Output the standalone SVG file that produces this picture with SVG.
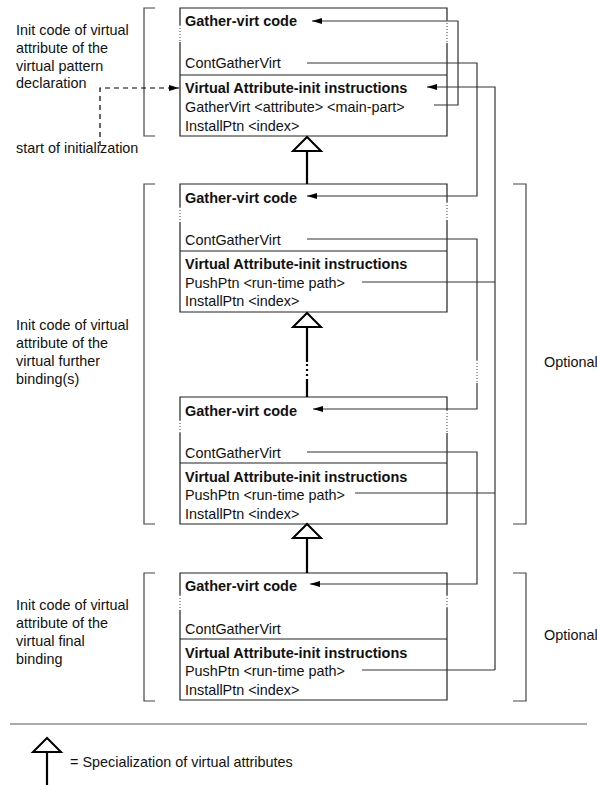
<svg xmlns="http://www.w3.org/2000/svg" width="597" height="785" viewBox="0 0 597 785">
<defs>
<style>
text{font-family:"Liberation Sans",Arial,sans-serif;font-size:14.4px;fill:#111}
.b{font-weight:bold;font-size:14.5px}
.edge{fill:none;stroke:#222;stroke-width:1.2}
.dot{fill:none;stroke:#444;stroke-width:1;stroke-dasharray:1,2}
.con{fill:none;stroke:#333;stroke-width:1.2}
.brk{fill:none;stroke:#444;stroke-width:1.2}
.spec{fill:none;stroke:#000;stroke-width:2.2}
.tri{fill:#fff;stroke:#000;stroke-width:2}
</style>
<marker id="ah" markerWidth="10" markerHeight="6" refX="10" refY="3" orient="auto" markerUnits="userSpaceOnUse">
<path d="M0,0 L10,3 L0,6 Z" fill="#000"/>
</marker>
</defs>
<rect width="597" height="785" fill="#fff"/>

<g id="bracket-left-1"><path class="brk" d="M155,8 H144 V136 H155"/>
<text x="16" y="35">Init code of virtual</text><text x="16" y="53">attribute of the</text><text x="16" y="71">virtual pattern</text><text x="16" y="88">declaration</text></g>

<g id="bracket-left-2"><path class="brk" d="M155,184 H144 V524 H155"/>
<text x="16" y="330">Init code of virtual</text><text x="16" y="348">attribute of the</text><text x="16" y="366">virtual further</text><text x="16" y="384">binding(s)</text></g>

<g id="bracket-left-3"><path class="brk" d="M155,573 H144 V701 H155"/>
<text x="16" y="610">Init code of virtual</text><text x="16" y="628">attribute of the</text><text x="16" y="646">virtual final</text><text x="16" y="664">binding</text></g>

<g id="bracket-right-1"><path class="brk" d="M513,184 H526 V524 H513"/><text x="544" y="367">Optional</text></g>
<g id="bracket-right-2"><path class="brk" d="M513,573 H526 V701 H513"/><text x="544" y="640">Optional</text></g>

<g id="box1">
<path class="edge" d="M180,25 V8 H447 V20 M447,43 V136 H180 V42 M180,75 H447"/>
<path class="dot" d="M180,25 V42 M447,20 V43"/>
<text class="b" x="185" y="26">Gather-virt code</text>
<text x="185" y="68">ContGatherVirt</text>
<text class="b" x="185" y="93">Virtual Attribute-init instructions</text>
<text x="185" y="112">GatherVirt &lt;attribute&gt; &lt;main-part&gt;</text>
<text x="185" y="131">InstallPtn &lt;index&gt;</text>
</g>

<g id="box2">
<path class="edge" d="M180,207 V184 H447 V202 M447,220 V312 H180 V222 M180,251 H447"/>
<path class="dot" d="M180,207 V222 M447,202 V220"/>
<text class="b" x="185" y="203">Gather-virt code</text>
<text x="185" y="245">ContGatherVirt</text>
<text class="b" x="185" y="269">Virtual Attribute-init instructions</text>
<text x="185" y="288">PushPtn &lt;run-time path&gt;</text>
<text x="185" y="306">InstallPtn &lt;index&gt;</text>
</g>

<g id="box3">
<path class="edge" d="M180,420 V397 H447 V410 M447,433 V524 H180 V433 M180,463 H447"/>
<path class="dot" d="M180,420 V433 M447,410 V433"/>
<text class="b" x="185" y="416">Gather-virt code</text>
<text x="185" y="458">ContGatherVirt</text>
<text class="b" x="185" y="482">Virtual Attribute-init instructions</text>
<text x="185" y="500">PushPtn &lt;run-time path&gt;</text>
<text x="185" y="519">InstallPtn &lt;index&gt;</text>
</g>

<g id="box4">
<path class="edge" d="M180,595 V573 H447 V595 M447,608 V700 H180 V610 M180,639 H447"/>
<path class="dot" d="M180,595 V610 M447,595 V608"/>
<text class="b" x="185" y="591">Gather-virt code</text>
<text x="185" y="634">ContGatherVirt</text>
<text class="b" x="185" y="658">Virtual Attribute-init instructions</text>
<text x="185" y="676">PushPtn &lt;run-time path&gt;</text>
<text x="185" y="695">InstallPtn &lt;index&gt;</text>
</g>

<g id="start-label"><text x="16" y="153">start of initialization</text></g>

<g id="connectors">
<path d="M100,146 V88 H179" fill="none" stroke="#000" stroke-width="1.2" stroke-dasharray="5,4" marker-end="url(#ah)"/>
<path class="con" d="M434,105 H458 V21 H312" marker-end="url(#ah)"/>
<path class="con" d="M307,63 H477 V196 H307" marker-end="url(#ah)"/>
<path class="con" d="M307,239 H477 V360 M477,383 V409 H313" marker-end="url(#ah)"/>
<path class="dot" d="M477,360 V383"/>
<path class="con" d="M307,452 H477 V584 H310" marker-end="url(#ah)"/>
<path class="con" d="M495,670 V87 H427" marker-end="url(#ah)"/>
<path class="con" d="M362,282 H495 M355,493 H495 M362,670 H495"/>
<path class="spec" d="M307,151 V184"/>
<polygon class="tri" points="307,137 293,151 321,151"/>
<path class="spec" d="M307,326 V362 M307,381 V397"/>
<path d="M307,364 V381" fill="none" stroke="#000" stroke-width="2.2" stroke-dasharray="2,3"/>
<polygon class="tri" points="307,313 293,327 321,327"/>
<path class="spec" d="M307,538 V573"/>
<polygon class="tri" points="307,524 293,538 321,538"/>
</g>

<g id="legend">
<line x1="10" y1="724" x2="587" y2="724" stroke="#555" stroke-width="1.2"/>
<path class="spec" d="M47,752 V785"/>
<polygon class="tri" points="47,738 33,752 61,752"/>
<text x="70" y="767">= Specialization of virtual attributes</text>
</g>
</svg>
